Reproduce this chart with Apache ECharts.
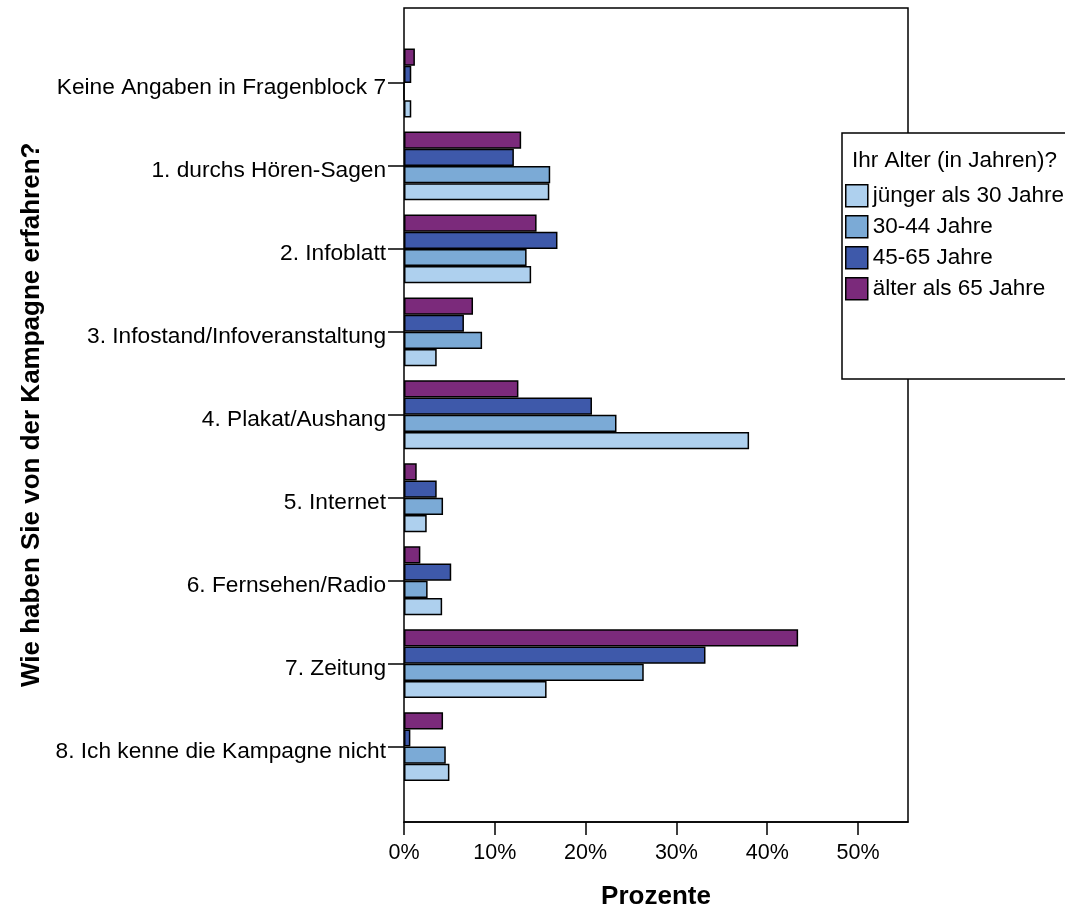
<!DOCTYPE html>
<html>
<head>
<meta charset="utf-8">
<script src="https://cdn.jsdelivr.net/npm/echarts@6/dist/echarts.min.js"></script>
<style>html,body{margin:0;padding:0;background:#fff}#c{width:1065px;height:908px}</style>
</head>
<body>
<div id="c"></div>
<script>
var categories = ['Keine Angaben in Fragenblock 7', '1. durchs Hören-Sagen', '2. Infoblatt', '3. Infostand/Infoveranstaltung', '4. Plakat/Aushang', '5. Internet', '6. Fernsehen/Radio', '7. Zeitung', '8. Ich kenne die Kampagne nicht'];
var seriesNames = ['jünger als 30 Jahre', '30-44 Jahre', '45-65 Jahre', 'älter als 65 Jahre'];
var under30 = [0.8, 16.0, 14.0, 3.6, 38.0, 2.5, 4.2, 15.7, 5.0];
var age30to44 = [0, 16.1, 13.5, 8.6, 23.4, 4.3, 2.6, 26.4, 4.6];
var age45to65 = [0.8, 12.1, 16.9, 6.6, 20.7, 3.6, 5.2, 33.2, 0.7];
var over65 = [1.2, 12.9, 14.6, 7.6, 12.6, 1.4, 1.8, 43.4, 4.3];
var xTicks = [0, 10, 20, 30, 40, 50];
var legendTitle = 'Ihr Alter (in Jahren)?';
var xTitle = 'Prozente';
var yTitle = 'Wie haben Sie von der Kampagne erfahren?';

var colors = ['#AED0EE', '#7BAAD6', '#3E59AA', '#7B2A7B'];
var valuesBySeries = [under30, age30to44, age45to65, over65];
var FONT = 'Liberation Sans, Arial, sans-serif';

var series = [];
for (var i = 3; i >= 0; i--) {
  series.push({
    name: seriesNames[i],
    type: 'bar',
    xAxisIndex: 1,
    yAxisIndex: 1,
    data: valuesBySeries[i],
    barCategoryGap: '17%',
    barGap: '0%',
    itemStyle: { color: colors[i], borderColor: '#000', borderWidth: 1.5 },
    emphasis: { disabled: true }
  });
}

var chart = echarts.init(document.getElementById('c'), null, { renderer: 'canvas' });
chart.setOption({
  animation: false,
  backgroundColor: '#fff',
  textStyle: { fontFamily: FONT, color: '#000' },
  grid: [
    { left: 404, top: 8, width: 504, height: 814, show: true, borderColor: '#000', borderWidth: 1.5, backgroundColor: 'transparent', containLabel: false, outerBoundsMode: 'none' },
    { left: 404, top: 41.5, width: 504, height: 746.6, containLabel: false, outerBoundsMode: 'none' }
  ],
  xAxis: [
    {
      gridIndex: 0, type: 'value', min: 0, max: 55.5,
      splitLine: { show: false },
      axisLine: { show: true, lineStyle: { color: '#000', width: 1.5 } },
      axisTick: { show: true, length: 13, lineStyle: { color: '#000', width: 1.5 }, customValues: xTicks },
      axisLabel: { customValues: xTicks, formatter: '{value}%', fontSize: 21.5, color: '#000', fontFamily: FONT, margin: 20 },
      name: xTitle, nameLocation: 'middle', nameGap: 62,
      nameTextStyle: { fontSize: 26, fontWeight: 'bold', color: '#000', fontFamily: FONT }
    },
    {
      gridIndex: 1, type: 'value', min: 0, max: 55.5, show: false
    }
  ],
  yAxis: [
    { gridIndex: 0, type: 'value', show: false },
    {
      gridIndex: 1, type: 'category', data: categories, inverse: true,
      axisLine: { show: false },
      axisTick: { show: true, length: 16, alignWithLabel: true, lineStyle: { color: '#000', width: 1.5 } },
      axisLabel: {
        color: '#000', margin: 18,
        formatter: function (v) { return '{a|' + v + '}'; },
        rich: { a: { fontSize: 22.7, color: '#000', fontFamily: FONT, padding: [10, 0, 0, 0] } }
      },
      name: yTitle, nameLocation: 'middle', nameRotate: 90, nameGap: 359,
      nameTextStyle: { fontSize: 26, fontWeight: 'bold', color: '#000', fontFamily: FONT }
    }
  ],
  graphic: [
    { type: 'rect', z: 1, shape: { x: 842, y: 133, width: 240, height: 246 }, style: { fill: '#fff', stroke: '#000', lineWidth: 1.5 } }
  ],
  title: {
    text: legendTitle, left: 852, top: 149, padding: 0, z: 10,
    textStyle: { fontSize: 22.5, fontWeight: 'normal', color: '#000', fontFamily: FONT }
  },
  legend: {
    data: seriesNames, orient: 'vertical', left: 845, top: 184, padding: 0, z: 10,
    itemWidth: 22, itemHeight: 22, itemGap: 7.5, icon: 'rect',
    itemStyle: { borderColor: '#000', borderWidth: 1.5 },
    textStyle: { fontSize: 22.5, color: '#000', fontFamily: FONT },
    selectedMode: false
  },
  series: series
});
</script>
</body>
</html>
